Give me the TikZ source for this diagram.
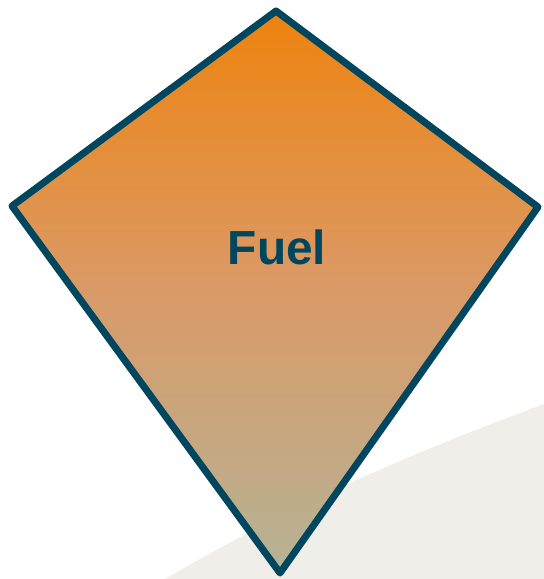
\documentclass[tikz,border=0pt]{standalone}
\usepackage{fontspec}
\setmainfont{Liberation Sans}
\definecolor{edge}{HTML}{00465F}
\definecolor{topc}{HTML}{EE830E}
\definecolor{midc}{HTML}{DA9A68}
\definecolor{botc}{HTML}{B5B396}
\definecolor{bgshape}{HTML}{EFEEE8}
\begin{document}
\begin{tikzpicture}[x=1bp,y=-1bp,
  kite/.style={draw=edge,line width=7bp,line join=round}]
\useasboundingbox (0,0) rectangle (544,579);
\fill[bgshape] (165,579) .. controls (300,500) and (420,450) .. (544,404) -- (544,579) -- cycle;
\coordinate (t) at (276,11);
\coordinate (l) at (12,206);
\coordinate (r) at (538,207);
\coordinate (b) at (280,573);
\shade[top color=topc,bottom color=botc,middle color=midc,shading angle=0] (t) -- (r) -- (b) -- (l) -- cycle;
\draw[kite] (t) -- (r) -- (b) -- (l) -- cycle;
\node[font=\fontsize{48}{52}\selectfont\bfseries,text=edge] (fuel) at (277,247) {Fuel};
\end{tikzpicture}
\end{document}
